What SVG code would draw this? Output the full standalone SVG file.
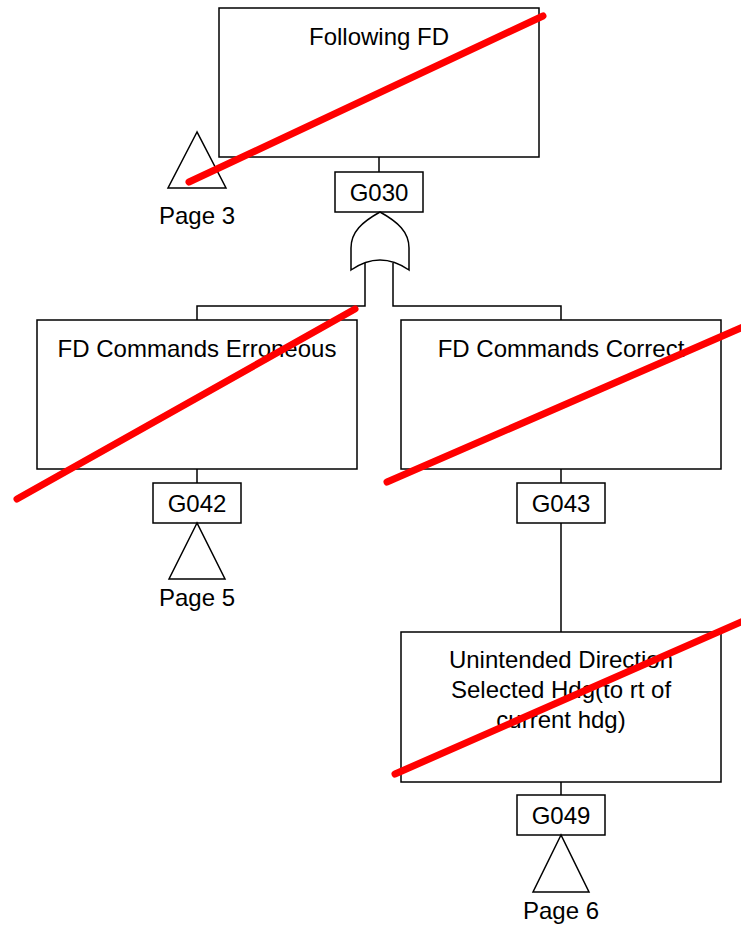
<svg xmlns="http://www.w3.org/2000/svg" width="741" height="925" viewBox="0 0 741 925">
<style>
.box{fill:#fff;stroke:#000;stroke-width:1.5}
.ln{fill:none;stroke:#000;stroke-width:1.5}
.t{font-family:"Liberation Sans",Arial,sans-serif;font-size:24px;fill:#000;text-anchor:middle}
.x{fill:none;stroke:#ff0000;stroke-width:7;stroke-linecap:round}
</style>
<rect width="741" height="925" fill="#fff"/>
<g id="connectors">
<path class="ln" d="M379,157 V172"/>
<path class="ln" d="M365,263 V306 H197 V320"/>
<path class="ln" d="M393,263 V306 H561 V320"/>
<path class="ln" d="M197,469 V483"/>
<path class="ln" d="M561,469 V483"/>
<path class="ln" d="M561,523 V632"/>
<path class="ln" d="M561,782 V795"/>
</g>
<g id="n_following">
<rect class="box" x="219" y="8" width="320" height="149"/>
<text class="t" x="379" y="45">Following FD</text>
</g>
<g id="n_page3">
<polygon class="box" points="197,132 168,188 226,188" style="fill:none"/>
<text class="t" x="197" y="224">Page 3</text>
</g>
<g id="n_G030">
<rect class="box" x="335" y="172" width="88" height="40"/>
<text class="t" x="379" y="201">G030</text>
</g>
<g id="n_or">
<path class="box" d="M380,212 C398,222 409,232 409,248 L409,270 Q380,250 351,270 L351,248 C351,232 362,222 380,212 Z"/>
</g>
<g id="n_erroneous">
<rect class="box" x="37" y="320" width="320" height="149"/>
<text class="t" x="197" y="357">FD Commands Erroneous</text>
</g>
<g id="n_correct">
<rect class="box" x="401" y="320" width="320" height="149"/>
<text class="t" x="561" y="357">FD Commands Correct</text>
</g>
<g id="n_G042">
<rect class="box" x="153" y="483" width="88" height="40"/>
<text class="t" x="197" y="512">G042</text>
</g>
<g id="n_page5">
<polygon class="box" points="197,523 169,579 225,579"/>
<text class="t" x="197" y="606">Page 5</text>
</g>
<g id="n_G043">
<rect class="box" x="517" y="483" width="88" height="40"/>
<text class="t" x="561" y="512">G043</text>
</g>
<g id="n_unintended">
<rect class="box" x="401" y="632" width="320" height="150"/>
<text class="t" x="561" y="668">Unintended Direction</text>
<text class="t" x="561" y="698">Selected Hdg(to rt of</text>
<text class="t" x="561" y="728">current hdg)</text>
</g>
<g id="n_G049">
<rect class="box" x="517" y="795" width="88" height="40"/>
<text class="t" x="561" y="824">G049</text>
</g>
<g id="n_page6">
<polygon class="box" points="561,835 533,892 589,892"/>
<text class="t" x="561" y="919">Page 6</text>
</g>
<g id="strikes">
<path class="x" d="M189,182 L543,16"/>
<path class="x" d="M17,499 L355,309"/>
<path class="x" d="M387,482 L750,324"/>
<path class="x" d="M395,774 L750,618"/>
</g>
</svg>
